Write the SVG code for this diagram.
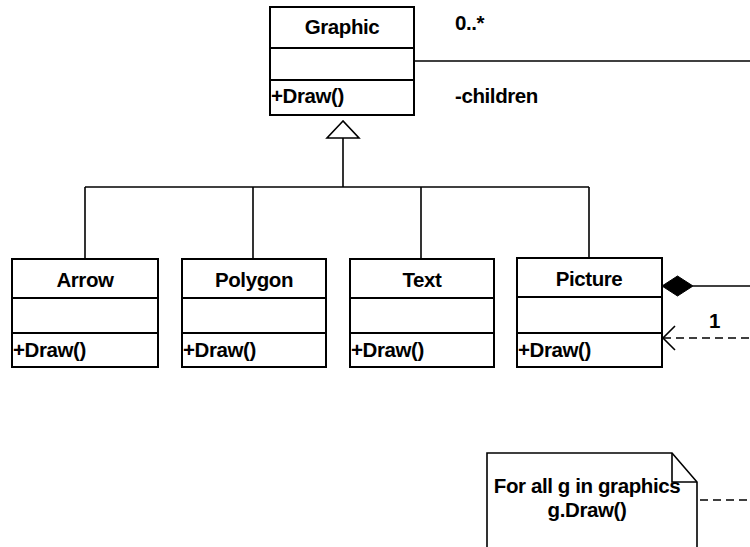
<svg xmlns="http://www.w3.org/2000/svg" width="750" height="547" viewBox="0 0 750 547">
<style>
  .box { fill: #fff; stroke: #000; stroke-width: 2; }
  .sep { stroke: #000; stroke-width: 2; fill: none; }
  .ln { stroke: #000; stroke-width: 1.6; fill: none; }
  .dash { stroke: #000; stroke-width: 1.6; fill: none; stroke-dasharray: 8 5; }
  text { font-family: "Liberation Sans", Arial, sans-serif; font-weight: bold; font-size: 20.5px; fill: #000; letter-spacing: -0.4px; }
  .t { text-anchor: middle; }
</style>
<rect width="750" height="547" fill="#fff"/>

<g id="connectors">
  <!-- association Graphic -> right -->
  <line class="ln" x1="414" y1="61" x2="750" y2="61"/>
  <!-- generalization -->
  <polygon points="343,121 327,138 359,138" fill="#fff" stroke="#000" stroke-width="1.6"/>
  <line class="ln" x1="343" y1="138" x2="343" y2="187"/>
  <line class="ln" x1="85" y1="187" x2="589" y2="187"/>
  <line class="ln" x1="85" y1="187" x2="85" y2="259"/>
  <line class="ln" x1="253" y1="187" x2="253" y2="259"/>
  <line class="ln" x1="421" y1="187" x2="421" y2="259"/>
  <line class="ln" x1="589" y1="187" x2="589" y2="259"/>
  <!-- composition -->
  <polygon points="662,286 677.5,276 693,286 677.5,296" fill="#000" stroke="#000" stroke-width="1"/>
  <line class="ln" x1="693" y1="286" x2="750" y2="286"/>
  <!-- dependency -->
  <line class="dash" x1="663" y1="338" x2="750" y2="338"/>
  <polyline class="ln" points="675,326 663,338 675,350"/>
  <!-- note link -->
  <line class="dash" x1="687" y1="500" x2="750" y2="500"/>
</g>

<g id="labels">
  <text x="455" y="30">0..*</text>
  <text x="455" y="103">-children</text>
  <text x="709" y="328">1</text>
</g>

<g id="graphic">
  <rect class="box" x="270" y="7" width="144" height="108"/>
  <line class="sep" x1="270" y1="48" x2="414" y2="48"/>
  <line class="sep" x1="270" y1="80" x2="414" y2="80"/>
  <text class="t" x="342" y="34">Graphic</text>
  <text x="271" y="103">+Draw()</text>
</g>

<g id="arrow">
  <rect class="box" x="12" y="259" width="146" height="108"/>
  <line class="sep" x1="12" y1="298" x2="158" y2="298"/>
  <line class="sep" x1="12" y1="333" x2="158" y2="333"/>
  <text class="t" x="85" y="287">Arrow</text>
  <text x="13" y="357">+Draw()</text>
</g>

<g id="polygon">
  <rect class="box" x="182" y="259" width="144" height="108"/>
  <line class="sep" x1="182" y1="298" x2="326" y2="298"/>
  <line class="sep" x1="182" y1="333" x2="326" y2="333"/>
  <text class="t" x="254" y="287">Polygon</text>
  <text x="183" y="357">+Draw()</text>
</g>

<g id="text">
  <rect class="box" x="350" y="259" width="144" height="108"/>
  <line class="sep" x1="350" y1="298" x2="494" y2="298"/>
  <line class="sep" x1="350" y1="333" x2="494" y2="333"/>
  <text class="t" x="422" y="287">Text</text>
  <text x="351" y="357">+Draw()</text>
</g>

<g id="picture">
  <rect class="box" x="517" y="258" width="145" height="109"/>
  <line class="sep" x1="517" y1="297" x2="662" y2="297"/>
  <line class="sep" x1="517" y1="333" x2="662" y2="333"/>
  <text class="t" x="589" y="286">Picture</text>
  <text x="518" y="357">+Draw()</text>
</g>

<g id="note">
  <path d="M487,560 L487,453 L672,453 L697,482 L697,560" fill="#fff" stroke="#000" stroke-width="1.6"/>
  <polyline class="ln" points="672,453 672,482 697,482"/>
  <text class="t" x="587" y="493">For all g in graphics</text>
  <text class="t" x="587" y="517">g.Draw()</text>
</g>
</svg>
